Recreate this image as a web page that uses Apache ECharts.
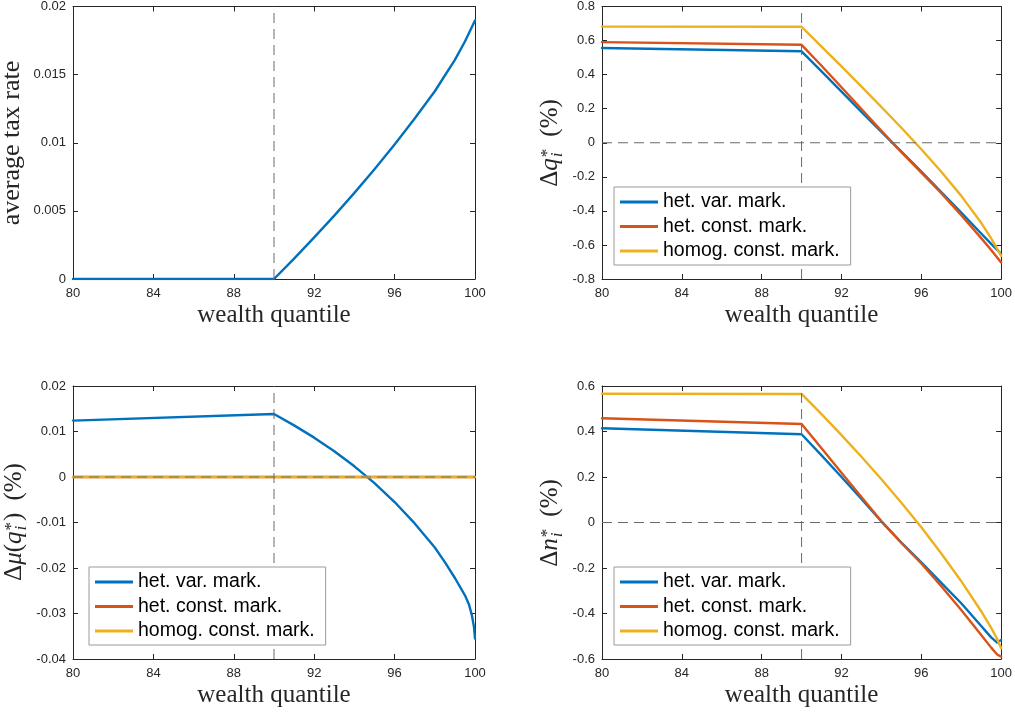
<!DOCTYPE html>
<html>
<head>
<meta charset="utf-8">
<script src="https://cdn.jsdelivr.net/npm/echarts@6/dist/echarts.min.js"></script>
<style>
  html, body { margin: 0; padding: 0; background: #fff; }
  #chart { width: 1015px; height: 713px; }
</style>
</head>
<body>
<div id="chart"></div>
<script>
// ---- data -------------------------------------------------------------
const xTicks = [80, 84, 88, 92, 96, 100];

// panel 1: average tax rate by wealth quantile
const taxQ = [80, 90, 91, 92, 93, 94, 95, 96, 97, 98, 99, 99.5, 100];
const taxRate = [0, 0, 0.0015, 0.00305, 0.00465, 0.00632, 0.00806, 0.00988, 0.01178, 0.01378, 0.01608, 0.01743, 0.01898];
const taxTicks = [0, 0.005, 0.01, 0.015, 0.02];

// panel 2: change in q*
const qQ = [80, 90, 91, 92, 93, 94, 95, 96, 97, 98, 99, 99.5, 100];
const qVar = [0.556, 0.537, 0.419, 0.300, 0.181, 0.064, -0.052, -0.170, -0.290, -0.410, -0.533, -0.594, -0.652];
const qConst = [0.591, 0.575, 0.452, 0.326, 0.198, 0.070, -0.055, -0.175, -0.296, -0.425, -0.560, -0.630, -0.703];
const qHomog = [0.682, 0.681, 0.565, 0.448, 0.330, 0.210, 0.088, -0.038, -0.170, -0.312, -0.470, -0.562, -0.664];
const qTicks = [-0.8, -0.6, -0.4, -0.2, 0, 0.2, 0.4, 0.6, 0.8];

// panel 3: change in mu(q*)
const muQ = [80, 90, 91, 92, 93, 94, 95, 96, 97, 98, 98.5, 99, 99.5, 99.7, 99.85, 99.95, 100];
const muVar = [0.0124, 0.01385, 0.01135, 0.00865, 0.00565, 0.00235, -0.00135, -0.0055, -0.0102, -0.0155, -0.0187, -0.0222, -0.0260, -0.0280, -0.0305, -0.0330, -0.0355];
const muConst = [0, 0, 0, 0, 0, 0, 0, 0, 0, 0, 0, 0, 0, 0, 0, 0, 0];
const muHomog = [0, 0, 0, 0, 0, 0, 0, 0, 0, 0, 0, 0, 0, 0, 0, 0, 0];
const muTicks = [-0.04, -0.03, -0.02, -0.01, 0, 0.01, 0.02];

// panel 4: change in n*
const nQ = [80, 90, 91, 92, 93, 94, 95, 96, 97, 98, 99, 99.5, 99.8, 100];
const nVar = [0.414, 0.388, 0.295, 0.200, 0.103, 0.005, -0.088, -0.175, -0.265, -0.355, -0.455, -0.505, -0.528, -0.516];
const nConst = [0.458, 0.433, 0.326, 0.219, 0.112, 0.005, -0.090, -0.180, -0.280, -0.385, -0.495, -0.550, -0.580, -0.590];
const nHomog = [0.566, 0.565, 0.476, 0.384, 0.289, 0.190, 0.087, -0.021, -0.136, -0.258, -0.390, -0.463, -0.512, -0.553];
const nTicks = [-0.6, -0.4, -0.2, 0, 0.2, 0.4, 0.6];

const cutoffQ = 90;
const seriesNames = ['het. var. mark.', 'het. const. mark.', 'homog. const. mark.'];
const colors = ['#0072BD', '#D95319', '#EDB120'];

// ---- layout & styles ---------------------------------------------------
const SANS = '"Liberation Sans", Arial, Helvetica, sans-serif';
const SERIF = '"Liberation Serif", "Times New Roman", serif';
const INK = '#262626';

const grids = [
  { left: 73, top: 6, width: 402, height: 273 },
  { left: 602, top: 6, width: 402, height: 273 },
  { left: 73, top: 386, width: 402, height: 273 },
  { left: 602, top: 386, width: 402, height: 273 }
];
const yTickSets = [taxTicks, qTicks, muTicks, nTicks];

const zip = (xs, ys) => xs.map((x, i) => [x, ys[i]]);

const xAxes = [], yAxes = [];
grids.forEach((g, gi) => {
  const base = {
    type: 'value', gridIndex: gi,
    axisLine: { show: true, onZero: false, lineStyle: { color: INK, width: 1 } },
    axisTick: { show: true, inside: true, length: 5, lineStyle: { color: INK, width: 1 } },
    splitLine: { show: false }
  };
  const xa = Object.assign({}, base, {
    min: xTicks[0], max: xTicks[xTicks.length - 1], interval: xTicks[1] - xTicks[0]
  });
  xAxes.push(Object.assign({}, xa, {
    position: 'bottom',
    axisLabel: { show: true, color: INK, fontFamily: SANS, fontSize: 13, margin: 8 },
    name: 'wealth quantile', nameLocation: 'middle', nameGap: 24,
    nameTextStyle: { fontFamily: SERIF, fontSize: 25, color: INK }
  }));
  xAxes.push(Object.assign({}, xa, { position: 'top', axisLabel: { show: false } }));
  const t = yTickSets[gi];
  const ya = Object.assign({}, base, {
    min: t[0], max: t[t.length - 1], interval: +(t[1] - t[0]).toFixed(6)
  });
  yAxes.push(Object.assign({}, ya, {
    position: 'left',
    axisLabel: { show: true, color: INK, fontFamily: SANS, fontSize: 13, margin: 7 }
  }));
  yAxes.push(Object.assign({}, ya, { position: 'right', axisLabel: { show: false } }));
});

function curve(name, color, xs, ys, gi) {
  return {
    type: 'line', name: name, xAxisIndex: 2 * gi, yAxisIndex: 2 * gi,
    data: zip(xs, ys), symbol: 'none', smooth: false,
    lineStyle: { color: color, width: 2.4, join: 'round', cap: 'round' }, itemStyle: { color: color },
    z: 3, animation: false, silent: true
  };
}
function dashed(name, pts, gi) {
  return {
    type: 'line', name: name, xAxisIndex: 2 * gi, yAxisIndex: 2 * gi,
    data: pts, symbol: 'none',
    lineStyle: { color: '#6a6a6a', width: 1, type: [10, 6] },
    z: 4, animation: false, silent: true
  };
}

const series = [];
// dashed reference lines: cutoff quantile and zero level
yTickSets.forEach((t, gi) => {
  series.push(dashed('cutoff', [[cutoffQ, t[0]], [cutoffQ, t[t.length - 1]]], gi));
  if (gi > 0) series.push(dashed('zero', [[xTicks[0], 0], [xTicks[xTicks.length - 1], 0]], gi));
});
series.push(curve('average tax rate', colors[0], taxQ, taxRate, 0));
[[qVar, qConst, qHomog, qQ], [muVar, muConst, muHomog, muQ], [nVar, nConst, nHomog, nQ]].forEach((set, k) => {
  for (let s = 0; s < 3; s++) series.push(curve(seriesNames[s], colors[s], set[3], set[s], k + 1));
});

function legendAt(left, top) {
  return {
    show: true, orient: 'vertical', left: left, top: top,
    data: seriesNames, icon: 'rect', itemWidth: 38, itemHeight: 3, itemGap: 4.5,
    textStyle: { fontFamily: SANS, fontSize: 19.5, color: '#000', lineHeight: 20 },
    backgroundColor: '#fff', borderColor: '#9a9a9a', borderWidth: 1, borderRadius: 0,
    padding: [5, 11, 4, 6], selectedMode: false, z: 10
  };
}

// ---- y-axis titles with math notation ------------------------------
const measureCtx = document.createElement('canvas').getContext('2d');
const MID = 0.3375; // em-middle to baseline offset of the serif face
function fontOf(p) { return (p.italic ? 'italic ' : '') + p.size + 'px ' + SERIF; }
function textW(str, font) { measureCtx.font = font; return measureCtx.measureText(str).width; }
function axisTitle(bx, cy, pieces) {
  let cursor = 0, prevStart = 0;
  const placed = pieces.map(p => {
    const w = textW(p.text, fontOf(p));
    const start = p.stack ? prevStart : cursor + (p.gap || 0);
    cursor = Math.max(cursor, start + w);
    prevStart = start;
    return { p, start };
  });
  const total = cursor;
  return {
    type: 'group', x: bx, y: cy, rotation: Math.PI / 2, silent: true,
    children: placed.map(({ p, start }) => ({
      type: 'text', x: start - total / 2, y: -(p.shift || 0) - MID * p.size,
      style: {
        text: p.text, font: fontOf(p), fill: INK,
        align: 'left', verticalAlign: 'middle', textAlign: 'left', textVerticalAlign: 'middle'
      }
    }))
  };
}
const B = 25, S = 17;
const titles = [
  axisTitle(20.5, 143, [{ text: 'average tax rate', size: 26 }]),
  axisTitle(559, 143, [
    { text: '\u0394', size: B }, { text: 'q', size: B, italic: true },
    { text: '*', size: S, shift: 6, gap: 1 }, { text: 'i', size: S, italic: true, shift: -4, stack: true },
    { text: '(%)', size: B, gap: 12 }
  ]),
  axisTitle(23, 522, [
    { text: '\u0394', size: B }, { text: '\u03bc', size: B, italic: true }, { text: '(', size: B },
    { text: 'q', size: B, italic: true },
    { text: '*', size: S, shift: 6, gap: 1 }, { text: 'i', size: S, italic: true, shift: -4, stack: true },
    { text: ')', size: B, gap: 1 }, { text: '(%)', size: B, gap: 12 }
  ]),
  axisTitle(559, 523, [
    { text: '\u0394', size: B }, { text: 'n', size: B, italic: true },
    { text: '*', size: S, shift: 6, gap: 1 }, { text: 'i', size: S, italic: true, shift: -4, stack: true },
    { text: '(%)', size: B, gap: 12 }
  ])
];

const chart = echarts.init(document.getElementById('chart'), null, { renderer: 'canvas' });
chart.setOption({
  backgroundColor: '#fff',
  animation: false,
  grid: grids,
  xAxis: xAxes,
  yAxis: yAxes,
  legend: [legendAt(614, 187), legendAt(89, 567), legendAt(614, 567)],
  series: series,
  graphic: { elements: titles }
});
</script>
</body>
</html>
